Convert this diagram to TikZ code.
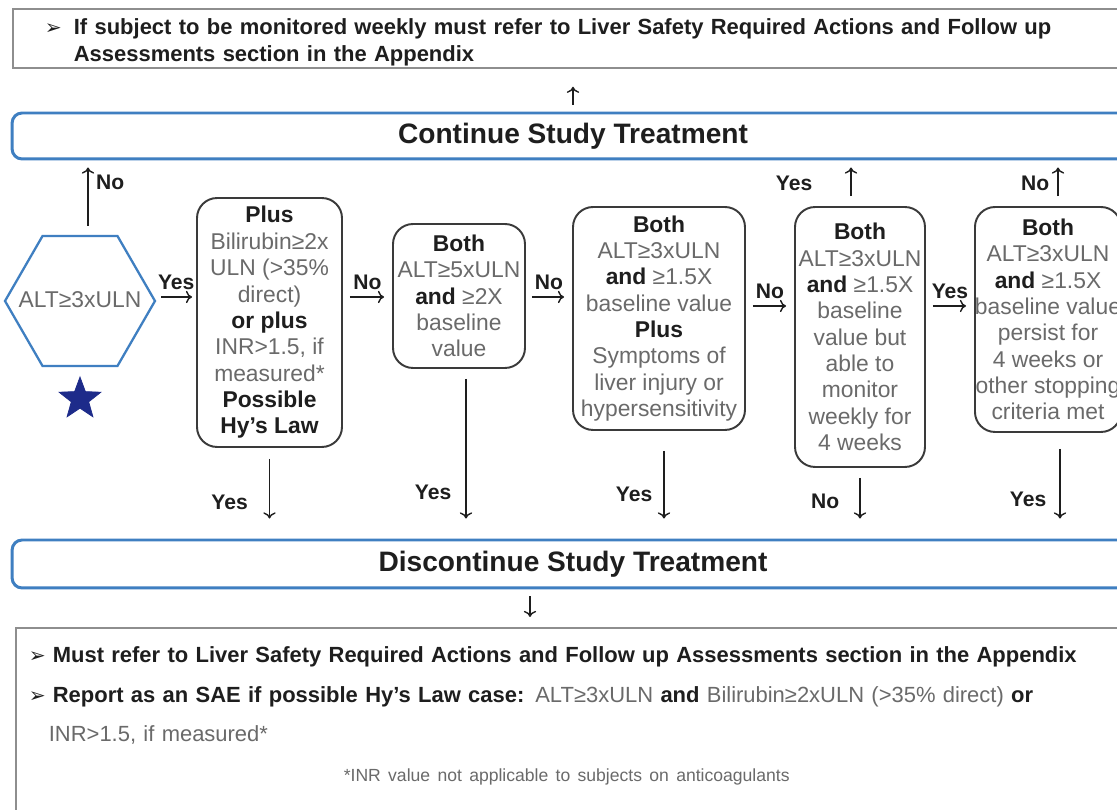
\documentclass[tikz,border=0pt]{standalone}
\usepackage{fontspec}
\setmainfont{Liberation Sans}
\newfontfamily\dingfont{DejaVu Sans}
\usetikzlibrary{shapes.geometric,positioning,arrows.meta}

\definecolor{ink}{HTML}{1E1E1E}
\definecolor{softgray}{HTML}{6A6A6A}
\definecolor{boxline}{HTML}{3A3A3A}
\definecolor{flowblue}{HTML}{3F7FC1}
\definecolor{framegray}{HTML}{8E8E8E}
\definecolor{starblue}{HTML}{1D2B8A}

\newcommand{\bword}[1]{{\bfseries\color{ink}#1}}
\newcommand{\greytext}[1]{{\mdseries\color{softgray}#1}}
\newcommand{\pointer}[1]{\makebox[#1][l]{\dingfont\fontsize{11.5}{11.5}\selectfont ➢}}

\begin{document}
\begin{tikzpicture}[x=0.02cm, y=0.02cm, >={To[length=3.5pt,width=7pt]},
    every node/.style={font=\fontsize{13}{15}\selectfont},
    crit/.style={draw=boxline, line width=1.1pt, rounded corners=0.4cm, align=center, text=softgray, inner sep=0pt},
    hexa/.style={regular polygon, regular polygon sides=6, draw=flowblue, line width=1.3pt, minimum size=3cm, inner sep=0pt, text=softgray},
    banner/.style={draw=flowblue, line width=1.7pt, rounded corners=0.2cm, fill=white, minimum width=22.44cm, font=\fontsize{16}{18}\selectfont\bfseries, text=ink},
    frame/.style={draw=framegray, line width=1pt, anchor=north west, align=left, text width=21.6cm, inner ysep=0pt, text=ink},
    arr/.style={->, line width=0.8pt, draw=ink, shorten <=0.14cm, shorten >=0.16cm},
    lbl/.style={font=\fontsize{12}{14}\selectfont\bfseries, text=ink, inner sep=2pt}]

    \clip (0,0) rectangle (1117,-810);
    \fill[white] (0,0) rectangle (1117,-810);

    % banners and notes
    \node[banner, minimum height=0.92cm] (cont) at (573,-136) {Continue Study Treatment};
    \node[banner, minimum height=0.96cm] (disc) at (573,-564) {Discontinue Study Treatment};

    \node[frame, inner xsep=0.64cm, text height=0.52cm, text depth=0.66cm, font=\fontsize{12.5}{15.3}\selectfont\bfseries] (note) at (12,-8)
        {\pointer{0.58cm}If subject to be monitored weekly must refer to Liver Safety Required Actions and Follow up\\
         \hspace*{0.58cm}Assessments section in the Appendix};

    \node[frame, inner xsep=0.26cm, text height=0.7cm, text depth=4cm, font=\fontsize{12.5}{22.5}\selectfont\bfseries] (refer) at (15,-627)
        {\pointer{0.48cm}Must refer to Liver Safety Required Actions and Follow up Assessments section in the Appendix\\
         \pointer{0.48cm}Report as an SAE if possible Hy's Law case: \greytext{ALT≥3xULN} and \greytext{Bilirubin≥2xULN (>35\% direct)} or\\
         \hspace*{0.4cm}\greytext{INR>1.5, if measured*}\\
         \hspace*{6.3cm}\greytext{\fontsize{10}{22.5}\selectfont *INR value not applicable to subjects on anticoagulants}};

    % decision chain
    \node[hexa] (hex) at (80,-301) {\makebox[0pt]{\raisebox{2pt}{ALT≥3xULN}}};
    \node[star, star points=5, star point ratio=2.4, fill=starblue, draw=starblue, minimum size=0.88cm, inner sep=0pt] (badge) at (80,-399) {};

    \node[crit, minimum width=2.9cm, minimum height=4.98cm] (c1) at (269.5,-322.5)
        {\bword{Plus}\\Bilirubin≥2x\\ULN (>35\%\\direct)\\\bword{or plus}\\INR>1.5, if\\measured*\\\bword{Possible}\\\bword{Hy's Law}};
    \node[crit, minimum width=2.64cm, minimum height=2.88cm] (c2) at (459,-296)
        {\bword{Both}\\ALT≥5xULN\\\bword{and} ≥2X\\baseline\\value};
    \node[crit, minimum width=3.44cm, minimum height=4.46cm] (c3) at (659,-318.5)
        {\bword{Both}\\ALT≥3xULN\\\bword{and} ≥1.5X\\baseline value\\\bword{Plus}\\Symptoms of\\liver injury or\\hypersensitivity};
    \node[crit, minimum width=2.6cm, minimum height=5.2cm] (c4) at (860,-337)
        {\bword{Both}\\ALT≥3xULN\\\bword{and} ≥1.5X\\baseline\\value but\\able to\\monitor\\weekly for\\4 weeks};
    \node[crit, minimum width=2.8cm, minimum height=4.5cm] (c5) at (1048,-319.5)
        {\bword{Both}\\ALT≥3xULN\\\bword{and} ≥1.5X\\baseline value\\persist for\\4 weeks or\\other stopping\\criteria met};

    \coordinate (row1) at (0,-297);
    \coordinate (row2) at (0,-306);

    % across
    \draw[arr, shorten <=0.1cm, shorten >=0.08cm] (hex.east |- row1) -- (c1.west |- row1) node[lbl, midway, above=0.06cm] {Yes};
    \draw[arr] (c1.east |- row1) -- (c2.west |- row1) node[lbl, midway, above=0.06cm] {No};
    \draw[arr, shorten <=0.12cm] (c2.east |- row1) -- (c3.west |- row1) node[lbl, midway, above=0.06cm] {No};
    \draw[arr] (c3.east |- row2) -- (c4.west |- row2) node[lbl, midway, above=0.06cm] {No};
    \draw[arr] (c4.east |- row2) -- (c5.west |- row2) node[lbl, midway, above=0.06cm] {Yes};

    % up to continue
    \draw[arr, shorten <=0.18cm, shorten >=0.14cm] ([shift={(8,0)}]hex.north) -- ([shift={(8,0)}]hex.north |- cont.south) node[lbl, pos=0.7, right=0.08cm] {No};
    \draw[arr, shorten <=0.2cm, shorten >=0.14cm] ([shift={(-9,0)}]c4.north) -- ([shift={(-9,0)}]c4.north |- cont.south) node[lbl, midway, left=0.69cm] {Yes};
    \draw[arr, shorten <=0.2cm, shorten >=0.14cm] ([shift={(10,0)}]c5.north) -- ([shift={(10,0)}]c5.north |- cont.south) node[lbl, midway, left=0.09cm] {No};
    \draw[arr, shorten <=0.14cm, shorten >=0.36cm] (cont.north) -- (cont.north |- note.south);

    % down to discontinue
    \draw[arr, shorten <=0.22cm, shorten >=0.4cm] (c1.south) -- (c1.south |- disc.north) node[lbl, pos=0.6, left=0.35cm] {Yes};
    \draw[arr, shorten <=0.2cm, shorten >=0.4cm] ([shift={(7,0)}]c2.south) -- ([shift={(7,0)}]c2.south |- disc.north) node[lbl, pos=0.73, left=0.21cm] {Yes};
    \draw[arr, shorten <=0.4cm, shorten >=0.4cm] ([shift={(5,0)}]c3.south) -- ([shift={(5,0)}]c3.south |- disc.north) node[lbl, pos=0.59, left=0.15cm] {Yes};
    \draw[arr, shorten <=0.2cm, shorten >=0.4cm] (c4.south) -- (c4.south |- disc.north) node[lbl, pos=0.48, left=0.33cm] {No};
    \draw[arr, shorten <=0.32cm, shorten >=0.4cm] ([shift={(12,0)}]c5.south) -- ([shift={(12,0)}]c5.south |- disc.north) node[lbl, pos=0.63, left=0.19cm] {Yes};
    \draw[arr, shorten <=0.14cm, shorten >=0.2cm] ([shift={(-43,0)}]disc.south) -- ([shift={(-43,0)}]disc.south |- refer.north);

\end{tikzpicture}
\end{document}
